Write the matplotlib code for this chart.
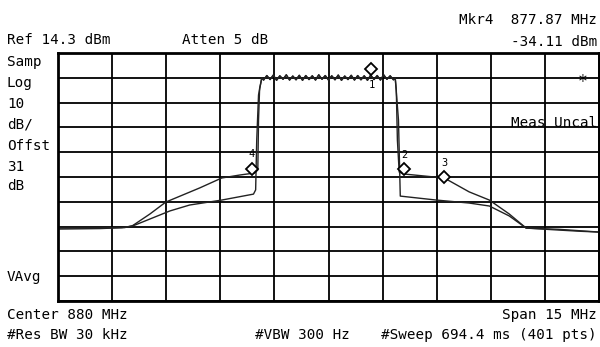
import numpy as np
import matplotlib.pyplot as plt
from matplotlib.transforms import offset_copy

# analyzer settings
ref_lvl = 14.3
db_div = 10
center = 880.0
span = 15.0

# lower / left skirt of trace A (MHz, dBm)
a_left_f = [872.50, 873.52, 874.27, 874.55, 875.05, 875.49, 876.43, 877.04, 877.54, 877.95, 878.04, 878.06, 878.09, 878.15]
a_left_l = [-56.3, -56.3, -56.1, -55.5, -50.6, -45.8, -40.1, -36.1, -34.9, -34.1, -32.9, -12.7, 0.0, 4.2]
a_right_f = [881.85, 881.88, 881.91, 881.96, 882.10, 883.21, 883.90, 884.46, 885.01, 885.48, 886.39, 887.00, 887.50]
a_right_l = [4.2, -0.6, -20.8, -33.7, -34.5, -36.1, -41.7, -45.0, -50.6, -56.3, -56.8, -57.4, -57.9]

# trace B (lower shoulders)
b_left_f = [872.50, 873.66, 874.35, 874.63, 875.60, 876.15, 877.04, 877.92, 877.98, 878.01, 878.06, 878.15]
b_left_l = [-56.7, -56.5, -56.1, -55.1, -49.4, -47.0, -45.0, -42.6, -40.9, -20.8, -2.6, 4.2]
b_right_f = [881.85, 881.94, 881.99, 882.99, 883.90, 884.46, 885.01, 885.48, 886.39, 887.00, 887.50]
b_right_l = [4.2, -12.7, -43.4, -45.0, -46.2, -47.4, -51.4, -56.3, -57.1, -57.6, -57.9]

# channel top ripple
top_lvl = [3.4, 5.2, 3.6, 5.4, 3.3, 5.1, 3.7, 5.5, 3.4, 5.0, 3.5, 5.3, 3.3, 5.2,
           3.6, 5.1, 3.4, 5.5, 3.7, 5.2, 3.4, 5.1, 3.5, 5.4, 3.3, 5.0, 3.6, 5.3,
           3.4, 5.2, 3.5, 5.1, 3.3, 5.4, 3.6, 5.2, 3.4, 5.5, 3.7, 5.1, 3.5]
top_f = np.linspace(878.2, 881.8, len(top_lvl))

# markers
mkr_names = ["1", "2", "3", "4"]
mkr_f = [881.19, 882.10, 883.21, 877.87]
mkr_l = [4.4, -34.5, -36.1, -34.11]

fig = plt.figure(figsize=(6, 3.47), dpi=100)
ax = fig.add_axes([58/600, 1 - 301/347, 541/600, 248/347])

lo = center - span/2
hi = center + span/2
bot = ref_lvl - 10*db_div
ax.set_xlim(lo, hi)
ax.set_ylim(bot, ref_lvl)
ax.set_xticks(np.linspace(lo, hi, 11))
ax.set_yticks(np.linspace(bot, ref_lvl, 11))
ax.tick_params(length=0, labelbottom=False, labelleft=False)
ax.grid(True, color="black", lw=1.3)
for s in ax.spines.values():
    s.set_linewidth(2)

tr_col = "#222222"
fa = np.concatenate([a_left_f, top_f, a_right_f])
la = np.concatenate([a_left_l, top_lvl, a_right_l])
fb = np.concatenate([b_left_f, top_f, b_right_f])
lb = np.concatenate([b_left_l, top_lvl, b_right_l])
ax.plot(fb, lb, color=tr_col, lw=1.0)
ax.plot(fa, la, color=tr_col, lw=1.0)

dy = [9, 5, 1, 4]
ly = [-7, 19, 15, 19]
for n, f, l, d, t in zip(mkr_names, mkr_f, mkr_l, dy, ly):
    tr = offset_copy(ax.transData, fig=fig, x=0, y=d, units="dots")
    ax.plot(f, l, marker="D", ms=6, mfc="white", mec="black", mew=1.3, transform=tr, zorder=5)
    tr2 = offset_copy(ax.transData, fig=fig, x=0, y=t, units="dots")
    ax.text(f, l, n, transform=tr2, fontsize=7.5, ha="center", va="center",
            family="DejaVu Sans Mono", zorder=6)

mono = dict(family="DejaVu Sans Mono", fontsize=10.3, va="center")

def ftxt(x, y, s, **kw):
    fig.text(x/600, 1 - y/347, s, **mono, **kw)

ftxt(7, 40, "Ref 14.3 dBm")
ftxt(182, 40, "Atten 5 dB")
ftxt(597, 20, "Mkr4  877.87 MHz", ha="right")
ftxt(597, 42, "-34.11 dBm", ha="right")
for s, y in zip(["Samp", "Log", "10", "dB/", "Offst", "31", "dB"],
                [62, 83, 104, 124, 146, 167, 186]):
    ftxt(7, y, s)
ftxt(7, 277, "VAvg")
ftxt(597, 123, "Meas Uncal", ha="right")
fig.text(583/600, 1 - 82/347, "*", family="DejaVu Sans Mono", fontsize=12,
         ha="center", va="center")
ftxt(7, 315, "Center 880 MHz")
ftxt(597, 315, "Span 15 MHz", ha="right")
ftxt(7, 335, "#Res BW 30 kHz")
ftxt(255, 335, "#VBW 300 Hz")
ftxt(597, 335, "#Sweep 694.4 ms (401 pts)", ha="right")

fig.savefig("out.png", dpi=100)
